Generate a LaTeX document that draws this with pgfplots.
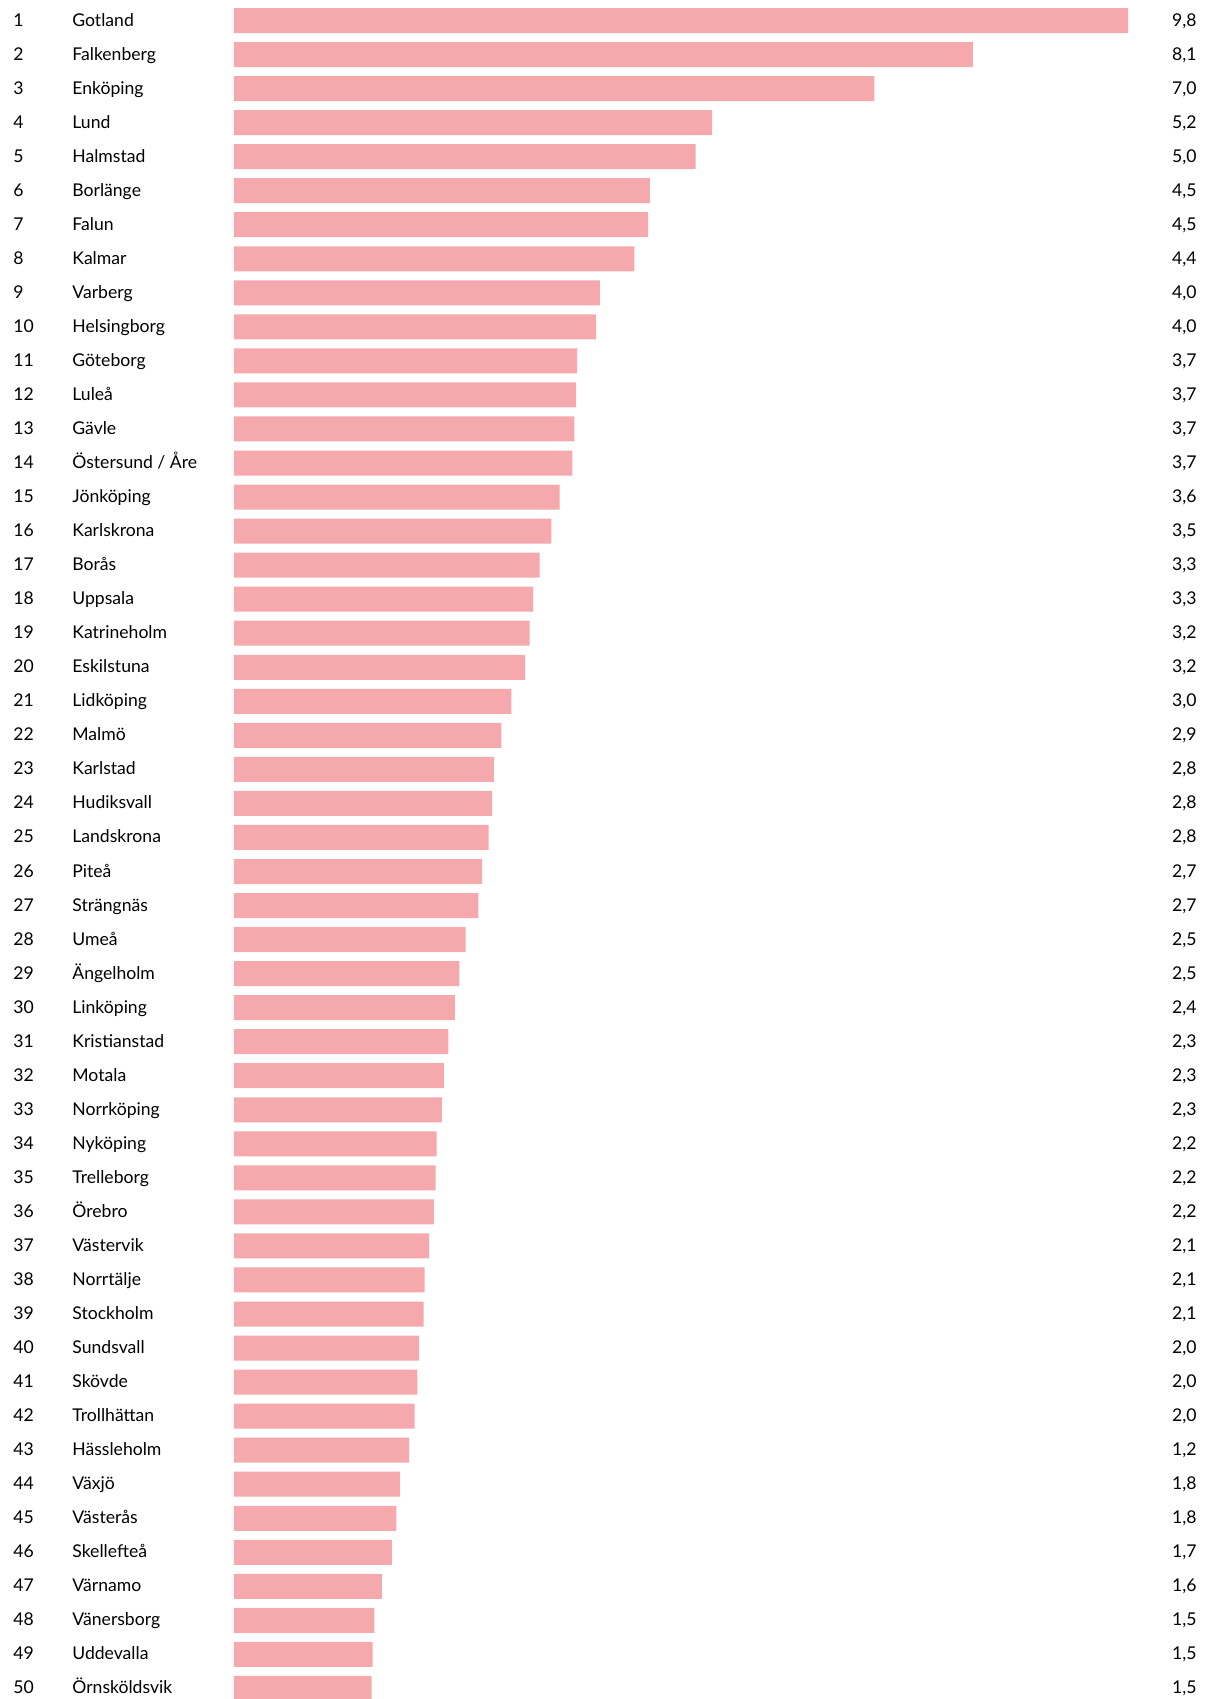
\documentclass[border=0pt]{standalone}
\usepackage{fontspec}
\setmainfont{Lato}
\usepackage{pgfplots}
\usepackage{pgfplotstable}
\pgfplotsset{compat=1.18}
\definecolor{barpink}{RGB}{245,169,173}

\pgfplotstableread[col sep=semicolon]{
r;v;name;lab
1;9.80;Gotland;9,8
2;8.10;Falkenberg;8,1
3;7.02;Enköping;7,0
4;5.24;Lund;5,2
5;5.06;Halmstad;5,0
6;4.56;Borlänge;4,5
7;4.54;Falun;4,5
8;4.39;Kalmar;4,4
9;4.01;Varberg;4,0
10;3.97;Helsingborg;4,0
11;3.76;Göteborg;3,7
12;3.75;Luleå;3,7
13;3.73;Gävle;3,7
14;3.71;{Östersund / Åre};3,7
15;3.57;Jönköping;3,6
16;3.48;Karlskrona;3,5
17;3.35;Borås;3,3
18;3.28;Uppsala;3,3
19;3.24;Katrineholm;3,2
20;3.19;Eskilstuna;3,2
21;3.04;Lidköping;3,0
22;2.93;Malmö;2,9
23;2.85;Karlstad;2,8
24;2.83;Hudiksvall;2,8
25;2.79;Landskrona;2,8
26;2.72;Piteå;2,7
27;2.68;Strängnäs;2,7
28;2.54;Umeå;2,5
29;2.47;Ängelholm;2,5
30;2.42;Linköping;2,4
31;2.35;Kristianstad;2,3
32;2.30;Motala;2,3
33;2.28;Norrköping;2,3
34;2.22;Nyköping;2,2
35;2.21;Trelleborg;2,2
36;2.19;Örebro;2,2
37;2.14;Västervik;2,1
38;2.09;Norrtälje;2,1
39;2.08;Stockholm;2,1
40;2.03;Sundsvall;2,0
41;2.01;Skövde;2,0
42;1.98;Trollhättan;2,0
43;1.92;Hässleholm;1,2
44;1.82;Växjö;1,8
45;1.78;Västerås;1,8
46;1.73;Skellefteå;1,7
47;1.62;Värnamo;1,6
48;1.54;Vänersborg;1,5
49;1.52;Uddevalla;1,5
50;1.51;Örnsköldsvik;1,5
}\data

\begin{document}
\begin{tikzpicture}
\begin{axis}[
    scale only axis,
    width=604pt,
    height=849.5pt,
    hide axis,
    xmin=-2.565, xmax=10.677,
    ymin=0.398, ymax=50.31,
    y dir=reverse,
    every node near coord/.append style={font=\fontsize{8.8}{10}\selectfont, inner sep=0pt, yshift=-2.75pt},
]
\path (rel axis cs:0,0) rectangle (rel axis cs:1,1);
% bars
\addplot[xbar, bar width=12.5pt, bar shift=0pt, fill=barpink, draw=none]
    table[x=v, y=r] {\data};
% rank numbers
\addplot[only marks, mark=none, nodes near coords, point meta=explicit symbolic,
    nodes near coords style={anchor=base west}]
    table[x expr=-2.423, y=r, meta=r] {\data};
% names
\addplot[only marks, mark=none, nodes near coords, point meta=explicit symbolic,
    nodes near coords style={anchor=base west}]
    table[x expr=-1.776, y=r, meta=name] {\data};
% values
\addplot[only marks, mark=none, nodes near coords, point meta=explicit symbolic,
    nodes near coords style={anchor=base east}]
    table[x expr=10.557, y=r, meta=lab] {\data};
\end{axis}
\end{tikzpicture}
\end{document}
